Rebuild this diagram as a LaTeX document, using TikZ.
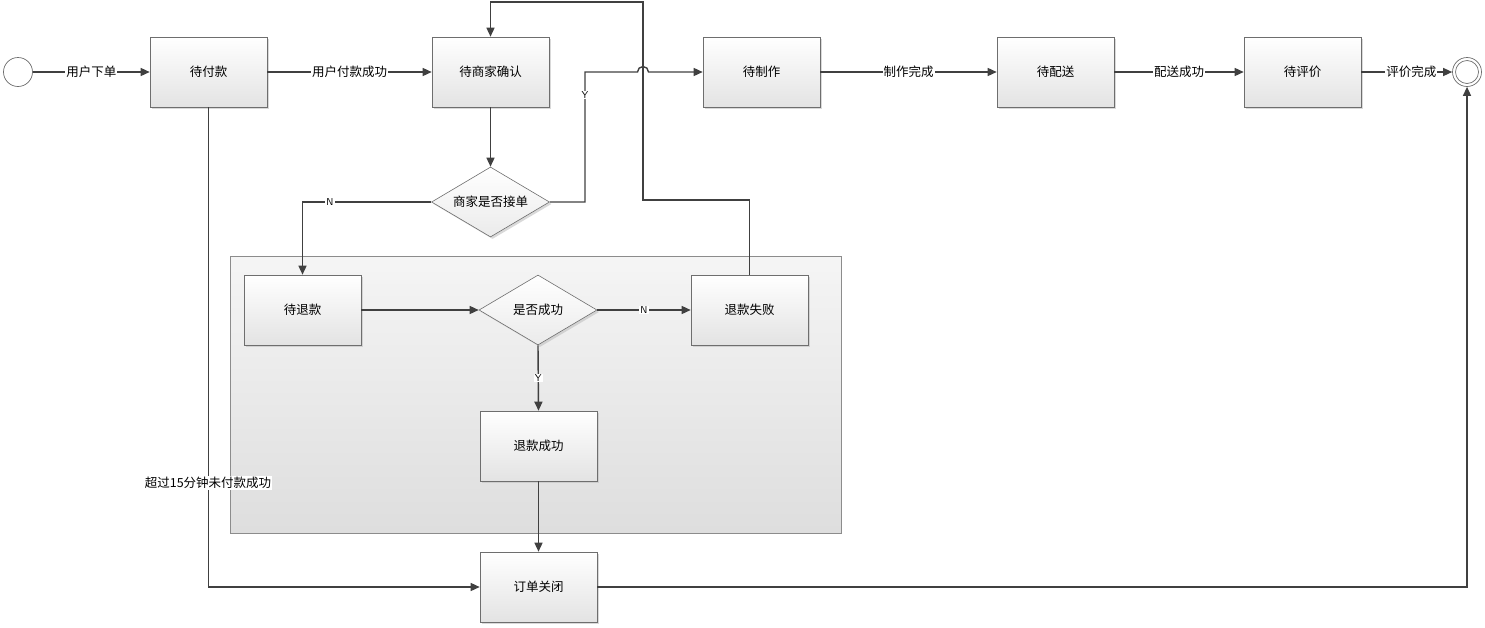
\documentclass[tikz,border=0pt]{standalone}
\usepackage{fontspec}
\newfontfamily\cjk{Noto Sans CJK SC}
\usetikzlibrary{shapes.geometric,arrows.meta,shadows}
\definecolor{linec}{HTML}{404040}
\definecolor{boxline}{HTML}{6E6E6E}
\begin{document}
\begin{tikzpicture}[x=1pt,y=-1pt,
  every node/.style={font=\cjk\fontsize{12.5}{14}\selectfont},
  state/.style={draw=boxline, line width=0.6pt, top color=white, bottom color=black!11,
     minimum width=117pt, minimum height=70pt, inner sep=0pt,
     drop shadow={shadow xshift=2pt, shadow yshift=-2pt, fill=black!25, opacity=0.6}},
  decision/.style={diamond, draw=boxline, line width=0.6pt, top color=white, bottom color=black!8,
     minimum width=118pt, minimum height=70pt, inner sep=0pt, aspect=1.69,
     drop shadow={shadow xshift=2pt, shadow yshift=-2pt, fill=black!25, opacity=0.6}},
  conn/.style={draw=linec, line width=1.4pt, -{Triangle[length=9pt,width=8pt]}},
  lbl/.style={fill=white, inner sep=1pt},
  yn/.style={fill=white, inner sep=1pt, font=\sffamily\fontsize{10}{11}\selectfont},
]
\useasboundingbox (0,0) rectangle (1485,627);
% container
\fill[top color=black!4, bottom color=black!13] (230,256) rectangle (841,533);
\draw[draw=black!45, line width=0.8pt] (230,256) rectangle (841,533);

% start / end
\node[circle, draw=boxline, line width=0.7pt, fill=white, minimum size=29pt, inner sep=0pt] (start) at (18,72) {};
\node[circle, draw=boxline, line width=0.7pt, fill=white, minimum size=29pt, inner sep=0pt] (end) at (1467,72) {};
\draw[boxline, line width=0.7pt] (end.center) circle[radius=11.5pt];

% states
\node[state] (pay) at (208.5,72) {待付款};
\node[state] (confirm) at (490.5,72) {待商家确认};
\node[state] (make) at (761.5,72) {待制作};
\node[state] (deliver) at (1055.5,72) {待配送};
\node[state] (review) at (1302.5,72) {待评价};
\node[decision] (accept) at (490.5,202) {商家是否接单};
\node[state] (refund) at (302.5,310) {待退款};
\node[decision] (ok) at (538,310) {是否成功};
\node[state] (fail) at (749.5,310) {退款失败};
\node[state] (done) at (538.5,446) {退款成功};
\node[state] (close) at (538.5,587) {订单关闭};

% top row
\draw[conn] (start) -- (pay) node[midway, lbl] {用户下单};
\draw[conn] (pay) -- (confirm) node[midway, lbl] {用户付款成功};
\draw[conn] (make) -- (deliver) node[midway, lbl] {制作完成};
\draw[conn] (deliver) -- (review) node[midway, lbl] {配送成功};
\draw[conn] (review) -- (end) node[pos=0.55, lbl] {评价完成};

% confirm -> accept
\draw[conn] (confirm) -- (accept);

% refund failure loop back to confirm
\coordinate (f1) at (749.5,200);
\coordinate (f2) at (643,200);
\coordinate (f3) at (643,2);
\coordinate (f4) at (490.5,2);
\draw[conn] (fail.north) -- (f1) -- (f2) -- (f3) -- (f4) -- (confirm.north);

% accept Y -> make (with jump)
\coordinate (y1) at (585,202);
\coordinate (y2) at (585,72);
\coordinate (j1) at (637.5,72);
\draw[conn] (accept.east) -- (y1) -- (y2) -- (j1) arc[start angle=180, end angle=0, radius=5.5pt] -- (make.west);
\node[yn] at (585,95) {Y};

% accept N -> refund
\coordinate (n1) at (302.5,202);
\draw[conn] (accept.west) -- (n1) -- (refund.north);
\node[yn] at (330,202) {N};

% inside container
\draw[conn] (refund) -- (ok.west);
\draw[conn] (ok.east) -- (fail.west) node[midway, yn] {N};
\draw[conn] (ok.south) -- (done.north) node[midway, yn] {Y};
\draw[conn] (done) -- (close);

% timeout
\coordinate (t1) at (208.5,587);
\draw[conn] (pay.south) -- (t1) -- (close.west);
\node[lbl] at (208,483) {超过15分钟未付款成功};

% close -> end
\coordinate (e1) at (1467,587);
\draw[conn] (close.east) -- (e1) -- (end.south);
\end{tikzpicture}
\end{document}
